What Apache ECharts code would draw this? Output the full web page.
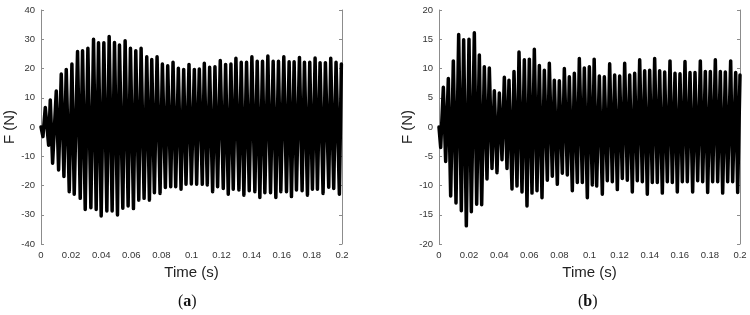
<!DOCTYPE html>
<html>
<head>
<meta charset="utf-8">
<script src="https://cdn.jsdelivr.net/npm/echarts@6/dist/echarts.min.js"></script>
<style>
  html, body { margin: 0; padding: 0; background: #fff; }
  #main { width: 750px; height: 315px; }
</style>
</head>
<body>
<div id="main"></div>
<script>
// (a) upper peaks: time (s) and force (N)
var peakTimeA = [0, 0.00285, 0.00617, 0.01015, 0.01346, 0.01678, 0.02054, 0.02429, 0.02761, 0.03115, 0.0349,
    0.03822, 0.04176, 0.04529, 0.04883, 0.05214, 0.0559, 0.05944, 0.06298, 0.06651, 0.07027,
    0.07359, 0.07712, 0.08066, 0.0842, 0.08773, 0.09127, 0.09481, 0.09834, 0.10188, 0.10519,
    0.10851, 0.11205, 0.11558, 0.11912, 0.12266, 0.12619, 0.12951, 0.13304, 0.13658, 0.14012,
    0.14366, 0.14719, 0.15073, 0.15426, 0.1578, 0.16134, 0.16487, 0.16819, 0.17173, 0.17505,
    0.17858, 0.18212, 0.18543, 0.18897, 0.19251, 0.19604, 0.19958];
var peakA = [0, 6.7, 9.2, 12.3, 18.1, 19.7, 21.5, 25.8, 26.1, 26.9, 30.0,
    28.8, 28.8, 30.9, 28.9, 28.0, 29.5, 26.9, 26.1, 26.9, 24.0,
    23.1, 24.0, 21.5, 20.9, 22.1, 20.1, 19.7, 21.4, 19.7, 19.8,
    21.8, 20.4, 20.6, 22.7, 21.4, 21.5, 23.5, 22.1, 22.1, 24.0,
    22.5, 22.5, 24.3, 22.5, 22.5, 24.0, 22.3, 22.3, 23.8, 22.1,
    22.1, 23.6, 22.0, 22.0, 23.5, 22.1, 21.5];
// (a) lower troughs
var troughTimeA = [0.0013, 0.00506, 0.00771, 0.01169, 0.01523, 0.01877, 0.02208, 0.02606, 0.02938, 0.03314,
    0.03667, 0.03999, 0.04375, 0.04728, 0.05082, 0.05436, 0.05789, 0.06143, 0.06497, 0.0685,
    0.07204, 0.07535, 0.07911, 0.08265, 0.08619, 0.0895, 0.09304, 0.09635, 0.09989, 0.10343,
    0.10718, 0.1105, 0.11404, 0.11735, 0.12111, 0.12442, 0.12774, 0.1315, 0.13481, 0.13835,
    0.14211, 0.14542, 0.14874, 0.1525, 0.15604, 0.15935, 0.16311, 0.16642, 0.16974, 0.1735,
    0.17704, 0.18035, 0.18367, 0.18742, 0.19118, 0.1945, 0.19826];
var troughA = [-3.3, -6.2, -12.4, -14.7, -16.9, -22.1, -23.0, -24.4, -28.2, -27.6,
    -28.2, -30.4, -28.7, -28.7, -30.1, -27.8, -27.0, -27.9, -25.0, -24.4,
    -25.0, -22.5, -22.7, -20.7, -20.4, -20.4, -21.3, -19.6, -19.5, -19.6,
    -19.6, -19.8, -22.1, -20.4, -21.0, -23.0, -21.3, -21.5, -23.3, -21.8,
    -22.1, -24.1, -22.5, -22.5, -24.1, -22.1, -22.1, -23.8, -21.5, -21.8,
    -23.3, -21.3, -21.3, -22.7, -20.6, -21.0, -23.0];

// (b) upper peaks
var peakTimeB = [0, 0.00288, 0.0062, 0.00952, 0.01307, 0.01639, 0.01993, 0.02348, 0.0268, 0.03012, 0.03344,
    0.03677, 0.04009, 0.04341, 0.04651, 0.04983, 0.05316, 0.0567, 0.06002, 0.06334, 0.06667,
    0.06999, 0.07331, 0.07663, 0.07995, 0.08328, 0.0866, 0.08992, 0.09324, 0.09657, 0.09989,
    0.1031, 0.10653, 0.10986, 0.1134, 0.11672, 0.12005, 0.12337, 0.12669, 0.13001, 0.13334,
    0.13666, 0.13998, 0.1433, 0.14662, 0.14995, 0.15349, 0.15681, 0.16013, 0.16345, 0.16678,
    0.1701, 0.17364, 0.17696, 0.18029, 0.18361, 0.18693, 0.19025, 0.1938, 0.19712, 0.2];
var peakB = [0, 6.8, 8.3, 11.3, 15.8, 14.9, 15.0, 16.1, 12.3, 10.3, 10.1,
    6.2, 5.8, 8.5, 8.0, 9.5, 12.8, 11.5, 11.6, 13.3, 10.5,
    9.7, 10.9, 8.0, 7.9, 10.0, 8.6, 9.2, 11.7, 10.1, 10.3,
    11.6, 8.7, 8.6, 10.8, 8.9, 8.7, 10.9, 8.9, 9.2, 11.5,
    9.6, 9.7, 11.7, 9.6, 9.4, 11.3, 9.2, 9.1, 11.2, 9.3,
    9.3, 11.3, 9.5, 9.5, 11.5, 9.5, 9.4, 11.3, 9.3, 8.9];
// (b) lower troughs
var troughTimeB = [0.00111, 0.00443, 0.00775, 0.0113, 0.01484, 0.01816, 0.02148, 0.02503, 0.02835, 0.03189,
    0.03522, 0.03854, 0.04186, 0.04518, 0.04851, 0.05183, 0.05515, 0.05847, 0.06179, 0.06512,
    0.06844, 0.07198, 0.0753, 0.07863, 0.08195, 0.08527, 0.08859, 0.09191, 0.09524, 0.09856,
    0.10188, 0.10476, 0.10852, 0.11184, 0.11516, 0.11849, 0.12181, 0.12513, 0.12845, 0.13177,
    0.1351, 0.13842, 0.14174, 0.14506, 0.14839, 0.15171, 0.15503, 0.15835, 0.16168, 0.165,
    0.16854, 0.17187, 0.17519, 0.17851, 0.18183, 0.18516, 0.18848, 0.1918, 0.19512, 0.19845];
var troughB = [-3.5, -5.9, -11.8, -13.0, -14.3, -16.9, -14.5, -13.2, -13.3, -8.9,
    -7.1, -7.8, -5.6, -7.1, -10.6, -10.1, -11.1, -13.5, -11.3, -10.9,
    -12.1, -9.1, -8.4, -9.8, -7.9, -8.2, -10.9, -9.5, -9.5, -12.1,
    -9.9, -10.1, -11.5, -9.2, -9.35, -10.7, -8.8, -9.1, -11.1, -9.2,
    -9.35, -11.5, -9.5, -9.5, -11.3, -9.35, -9.5, -11.1, -9.35, -9.35,
    -11.1, -9.2, -9.35, -11.2, -9.35, -9.35, -11.3, -9.35, -9.35, -11.2];

var xTicks = [0, 0.2, 0.02];   // min, max, step

function mergeSignal(pt, pv, tt, tv) {
    var res = [];
    for (var i = 0; i < pt.length; i++) res.push([pt[i], pv[i]]);
    for (var j = 0; j < tt.length; j++) res.push([tt[j], tv[j]]);
    res.sort(function (a, b) { return a[0] - b[0]; });
    return res;
}

var axisColor = '#8c8c8c';
var labelColor = '#333';
var font = "'Liberation Sans', Arial, sans-serif";

function xAx(grid, pos) {
    var bottom = pos === 'bottom';
    return {
        gridIndex: grid, type: 'value', position: pos,
        min: xTicks[0], max: xTicks[1], interval: xTicks[2],
        axisLine: { lineStyle: { color: axisColor, width: 1 } },
        axisTick: { inside: true, length: 3, lineStyle: { color: axisColor } },
        axisLabel: { show: bottom, margin: 6, fontSize: 9.5, color: labelColor, fontFamily: font },
        splitLine: { show: false },
        name: bottom ? 'Time (s)' : '',
        nameLocation: 'middle', nameGap: 18,
        nameTextStyle: { fontSize: 15, color: '#222', fontFamily: font }
    };
}
function yAx(grid, pos, lim, step) {
    var left = pos === 'left';
    return {
        gridIndex: grid, type: 'value', position: pos,
        min: -lim, max: lim, interval: step,
        axisLine: { show: true, onZero: false, lineStyle: { color: axisColor, width: 1 } },
        axisTick: { show: true, inside: true, length: 3, lineStyle: { color: axisColor } },
        axisLabel: { show: left, margin: 6, fontSize: 9.5, color: labelColor, fontFamily: font },
        splitLine: { show: false },
        name: left ? 'F (N)' : '',
        nameLocation: 'middle', nameGap: 20,
        nameTextStyle: { fontSize: 15, color: '#222', fontFamily: font }
    };
}

// thick strokes like the original MATLAB plot
var lineStyle = { color: '#000', width: 3.5, join: 'round', cap: 'round' };

var myChart = echarts.init(document.getElementById('main'));
var option = {
    animation: false,
    backgroundColor: '#fff',
    grid: [
        { left: 41, top: 10, width: 301, height: 234 },
        { left: 439, top: 10, width: 301, height: 234 }
    ],
    xAxis: [xAx(0, 'bottom'), xAx(0, 'top'), xAx(1, 'bottom'), xAx(1, 'top')],
    yAxis: [yAx(0, 'left', 40, 10), yAx(0, 'right', 40, 10), yAx(1, 'left', 20, 5), yAx(1, 'right', 20, 5)],
    series: [
        {
            type: 'line', xAxisIndex: 0, yAxisIndex: 0, showSymbol: false,
            lineStyle: lineStyle, data: mergeSignal(peakTimeA, peakA, troughTimeA, troughA)
        },
        {
            type: 'line', xAxisIndex: 2, yAxisIndex: 2, showSymbol: false,
            lineStyle: lineStyle, data: mergeSignal(peakTimeB, peakB, troughTimeB, troughB)
        }
    ],
    graphic: [
        {
            type: 'text', left: 178, top: 294,
            style: {
                text: '({b|a})', font: "16px 'Liberation Serif', serif", fill: '#111',
                rich: { b: { fontWeight: 'bold', fontSize: 16, fontFamily: "'Liberation Serif', serif" } }
            }
        },
        {
            type: 'text', left: 578, top: 294,
            style: {
                text: '({b|b})', font: "16px 'Liberation Serif', serif", fill: '#111',
                rich: { b: { fontWeight: 'bold', fontSize: 16, fontFamily: "'Liberation Serif', serif" } }
            }
        }
    ]
};
myChart.setOption(option);
</script>
</body>
</html>
